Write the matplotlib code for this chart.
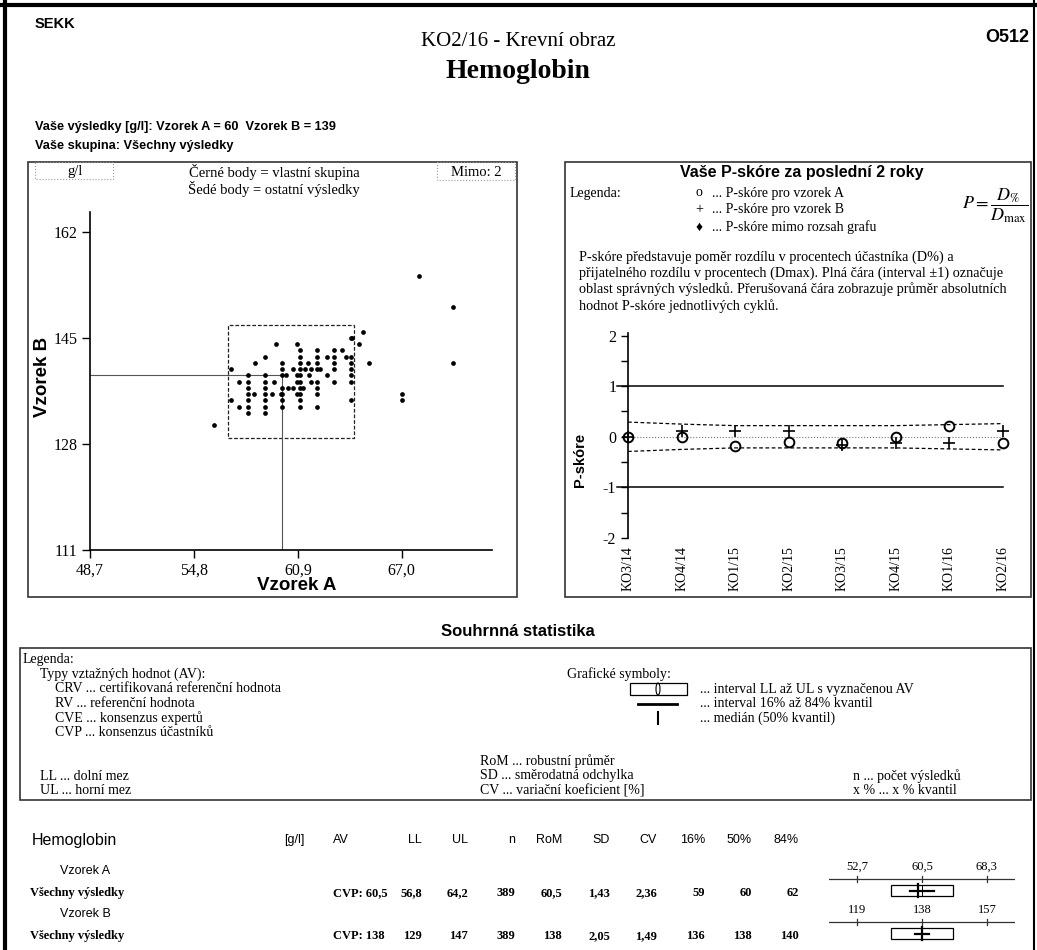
import matplotlib
matplotlib.use('Agg')
import matplotlib.pyplot as plt
from matplotlib.patches import Rectangle, Ellipse
from matplotlib import font_manager

# ---------------- data ----------------
# scatter: Vzorek A vs Vzorek B (g/l)
vzorek_a = [56, 67, 67, 68, 70, 70,
            64.7, 64.1, 64.0, 59.6, 60.85, 64.5,
            61, 62, 63, 63.5,
            59, 61, 62, 62.6, 63, 63.7, 64,
            58.4, 60, 61, 61.5, 62, 63, 64, 65.1,
            57, 60, 60.6, 61, 61.3, 61.7, 62, 62.2, 63, 64,
            58, 59, 60, 60.2, 60.85, 61, 61.55, 62.6, 64,
            57.45, 58, 59, 59.5, 60.85, 61, 61.7, 62, 63, 64,
            58, 59, 60, 60.3, 60.6, 61, 61.2, 62,
            58, 58.3, 59, 59.4, 59.9, 60, 60.85, 61, 62,
            57, 58, 59, 60, 61, 64,
            57.45, 58, 59, 60, 61, 62,
            58, 59]
vzorek_b = [131, 136, 135, 155, 150, 141,
            146, 145, 145, 144, 144, 144,
            143, 143, 143, 143,
            142, 142, 142, 142, 142, 142, 142,
            141, 141, 141, 141, 141, 141, 141, 141,
            140, 140, 140, 140, 140, 140, 140, 140, 140, 140,
            139, 139, 139, 139, 139, 139, 139, 139, 139,
            138, 138, 138, 138, 138, 138, 138, 138, 138, 138,
            137, 137, 137, 137, 137, 137, 137, 137,
            136, 136, 136, 136, 136, 136, 136, 136, 136,
            135, 135, 135, 135, 135, 135,
            134, 134, 134, 134, 134, 134,
            133, 133]
vase_a, vase_b = 60, 139
ll_a, ul_a = 56.8, 64.2
ll_b, ul_b = 129, 147
sc_xticks = [48.7, 54.8, 60.9, 67.0]
sc_xlabels = ['48,7', '54,8', '60,9', '67,0']
sc_yticks = [111, 128, 145, 162]

# P-score history
cykly = ['KO3/14', 'KO4/14', 'KO1/15', 'KO2/15', 'KO3/15', 'KO4/15', 'KO1/16', 'KO2/16']
p_a = [0.0, 0.0, -0.18, -0.11, -0.13, 0.0, 0.22, -0.13]
p_b = [0.0, 0.12, 0.12, 0.12, -0.17, -0.12, -0.13, 0.12]
p_prumer = [0.29, 0.25, 0.22, 0.22, 0.22, 0.22, 0.24, 0.26]

# summary table
tab_head = ['AV', 'LL', 'UL', 'n', 'RoM', 'SD', 'CV', '16%', '50%', '84%']
row_a = ['CVP: 60,5', '56,8', '64,2', '389', '60,5', '1,43', '2,36', '59', '60', '62']
row_b = ['CVP: 138', '129', '147', '389', '138', '2,05', '1,49', '136', '138', '140']
# box symbols: AV, LL, UL, q16, q50, q84, axis ticks
box_a = dict(av=60.5, ll=56.8, ul=64.2, q16=59, q50=60, q84=62,
             ticks=[52.7, 60.5, 68.3], labels=['52,7', '60,5', '68,3'], lim=(49.3, 71.7))
box_b = dict(av=138, ll=129, ul=147, q16=136, q50=138, q84=140,
             ticks=[119, 138, 157], labels=['119', '138', '157'], lim=(110.8, 165.2))

# ---------------- fonts ----------------
names = {f.name for f in font_manager.fontManager.ttflist}
SERIF = 'Liberation Serif'
SANS = 'Liberation Sans'
NARROW = 'Liberation Sans Narrow' if 'Liberation Sans Narrow' in names else SANS
nar_size = 11 if NARROW != SANS else 9.2
plt.rcParams['font.family'] = [SERIF, 'DejaVu Serif', 'DejaVu Sans']
plt.rcParams['mathtext.fontset'] = 'stix'
plt.rcParams['axes.unicode_minus'] = False

W, H = 1037, 950
fig = plt.figure(figsize=(W / 100, H / 100), dpi=100)
fig.patch.set_facecolor('white')

bg = fig.add_axes([0, 0, 1, 1])
bg.set_xlim(0, W)
bg.set_ylim(H, 0)
bg.axis('off')


def px_axes(l, t, r, b):
    return fig.add_axes([l / W, 1 - b / H, (r - l) / W, (b - t) / H])


def txt(x, y, s, size=10, fam=SERIF, **kw):
    kw.setdefault('va', 'center')
    bg.text(x, y, s, fontsize=size, family=[fam, 'DejaVu Sans'], **kw)


# page frame
bg.plot([5, 5], [0, H], color='black', lw=3)
bg.plot([0, W], [5, 5], color='black', lw=3)
bg.plot([1034, 1034], [0, H], color='black', lw=1.5)

# header
txt(35, 24, 'SEKK', 10.5, NARROW, weight='bold')
txt(1029, 38, 'O512', 13, SANS, weight='bold', ha='right')
txt(518, 41, 'KO2/16 - Krevní obraz', 15, ha='center')
txt(518, 72, 'Hemoglobin', 20, weight='bold', ha='center')
txt(35, 127, 'Vaše výsledky [g/l]: Vzorek A = 60  Vzorek B = 139', nar_size, NARROW, weight='bold')
txt(35, 146, 'Vaše skupina: Všechny výsledky', nar_size, NARROW, weight='bold')

# ---------------- left panel: scatter ----------------
bg.add_patch(Rectangle((28, 162), 489, 435, fill=False, lw=1.2, ec='#333333'))
bg.add_patch(Rectangle((35, 162), 78, 17, fill=False, lw=0.8, ec='#999999', ls=':'))
bg.add_patch(Rectangle((437, 162), 78, 18, fill=False, lw=0.8, ec='#999999', ls=':'))
txt(75, 172, 'g/l', 10.5, ha='center')
txt(476, 172, 'Mimo: 2', 10.5, ha='center')
txt(274, 172, 'Černé body = vlastní skupina', 10.5, ha='center')
txt(274, 189, 'Šedé body = ostatní výsledky', 10.5, ha='center')

ax = px_axes(90, 212, 492, 550)
ax.set_xlim(48.7, 72.3)
ax.set_ylim(111, 165.2)
ax.plot([48.7, vase_a], [vase_b, vase_b], color='#555555', lw=0.8)
ax.plot([vase_a, vase_a], [111, vase_b], color='#555555', lw=0.8)
ax.add_patch(Rectangle((ll_a, ll_b), ul_a - ll_a, ul_b - ll_b, fill=False,
                       ls=(0, (3, 1.5)), lw=0.9, ec='#222222'))
ax.plot(vzorek_a, vzorek_b, 'o', ms=3.4, color='black', mew=0, clip_on=False)
for s in ['top', 'right']:
    ax.spines[s].set_visible(False)
ax.spines['left'].set_linewidth(1.2)
ax.spines['bottom'].set_linewidth(1.2)
ax.set_xticks(sc_xticks)
ax.set_xticklabels(sc_xlabels)
ax.set_yticks(sc_yticks)
ax.tick_params(direction='out', length=6, width=1, labelsize=11.5, pad=3)
ax.set_xlabel('Vzorek A', fontsize=13.5, family=SANS, weight='bold')
ax.set_ylabel('Vzorek B', fontsize=13.5, family=SANS, weight='bold')
ax.xaxis.label.set_va('center')
ax.yaxis.label.set_va('center')
ax.xaxis.set_label_coords(0.515, -0.104)
ax.yaxis.set_label_coords(-0.117, 0.512)
ax.patch.set_alpha(0)

# ---------------- right panel: P-score ----------------
bg.add_patch(Rectangle((565, 162), 466, 435, fill=False, lw=1.2, ec='#333333'))
txt(802, 173, 'Vaše P-skóre za poslední 2 roky', 11.5, SANS, weight='bold', ha='center')
txt(570, 193, 'Legenda:', 10)
txt(699, 193, 'o', 10, ha='center')
txt(699, 210, '+', 10, ha='center')
txt(699, 227, '♦', 10, ha='center')
txt(712, 193, '... P-skóre pro vzorek A', 10)
txt(712, 210, '... P-skóre pro vzorek B', 10)
txt(712, 227, '... P-skóre mimo rozsah grafu', 10)
bg.text(1028, 206, r'$P=\dfrac{D_{\%}}{D_{\max}}$', fontsize=13, ha='right', va='center')
odstavec = ['P-skóre představuje poměr rozdílu v procentech účastníka (D%) a',
            'přijatelného rozdílu v procentech (Dmax). Plná čára (interval ±1) označuje',
            'oblast správných výsledků. Přerušovaná čára zobrazuje průměr absolutních',
            'hodnot P-skóre jednotlivých cyklů.']
for i, line in enumerate(odstavec):
    txt(579, 257 + i * 16.3, line, 10.3)

ax2 = px_axes(628, 333, 1003, 538)
x = list(range(len(cykly)))
ax2.set_xlim(0, len(cykly) - 1)
ax2.set_ylim(-2, 2.05)
ax2.axhline(1, xmin=-0.03, xmax=1, color='black', lw=1.1, clip_on=False)
ax2.axhline(-1, xmin=-0.03, xmax=1, color='black', lw=1.1, clip_on=False)
ax2.axhline(0, color='#777777', lw=0.8, ls=':')
ax2.plot(x, p_prumer, color='black', lw=0.9, ls=(0, (3, 2)))
ax2.plot(x, [-v for v in p_prumer], color='black', lw=0.9, ls=(0, (3, 2)))
ax2.plot(x, p_a, 'o', ms=7, mfc='none', mec='black', mew=1.4, clip_on=False)
ax2.plot(x, p_b, '+', ms=8, color='black', mew=1.2, clip_on=False)
for s in ['top', 'right', 'bottom']:
    ax2.spines[s].set_visible(False)
ax2.spines['left'].set_linewidth(1.2)
ax2.set_yticks([-2, -1, 0, 1, 2])
ax2.set_yticks([-1.5, -0.5, 0.5, 1.5], minor=True)
ax2.tick_params(axis='y', which='both', direction='out', length=5, width=1, labelsize=11.5)
ax2.set_xticks(x)
ax2.set_xticklabels(cykly, rotation=90, fontsize=10)
ax2.tick_params(axis='x', length=0, pad=6)
ax2.set_ylabel('P-skóre', fontsize=10.5, family=SANS, weight='bold')
ax2.yaxis.label.set_va('center')
ax2.yaxis.set_label_coords(-0.128, 0.38)
ax2.patch.set_alpha(0)

# ---------------- summary legend ----------------
txt(518, 632, 'Souhrnná statistika', 12, SANS, weight='bold', ha='center')
bg.add_patch(Rectangle((20, 648), 1011, 152, fill=False, lw=1.2, ec='#333333'))
ry = [660 + i * 14.5 for i in range(10)]
txt(23, ry[0], 'Legenda:', 10)
txt(40, ry[1], 'Typy vztažných hodnot (AV):', 10)
txt(55, ry[2], 'CRV ... certifikovaná referenční hodnota', 10)
txt(55, ry[3], 'RV ... referenční hodnota', 10)
txt(55, ry[4], 'CVE ... konsenzus expertů', 10)
txt(55, ry[5], 'CVP ... konsenzus účastníků', 10)
txt(40, ry[8], 'LL ... dolní mez', 10)
txt(40, ry[9], 'UL ... horní mez', 10)
txt(480, ry[7], 'RoM ... robustní průměr', 10)
txt(480, ry[8], 'SD ... směrodatná odchylka', 10)
txt(480, ry[9], 'CV ... variační koeficient [%]', 10)
txt(853, ry[8], 'n ... počet výsledků', 10)
txt(853, ry[9], 'x % ... x % kvantil', 10)
txt(567, ry[1], 'Grafické symboly:', 10)
bg.add_patch(Rectangle((630, ry[2] - 6), 57, 12, fill=False, lw=0.9, ec='black'))
bg.add_patch(Ellipse((658, ry[2]), 4, 12, fill=False, lw=0.8, ec='black'))
bg.plot([638, 677], [ry[3], ry[3]], color='black', lw=2)
bg.plot([658, 658], [ry[4] - 6, ry[4] + 6], color='black', lw=1.5)
txt(700, ry[2], '... interval LL až UL s vyznačenou AV', 10)
txt(700, ry[3], '... interval 16% až 84% kvantil', 10)
txt(700, ry[4], '... medián (50% kvantil)', 10)

# ---------------- summary table ----------------
txt(32, 845, 'Hemoglobin', 11.5, SANS, va='baseline')
txt(294, 843, '[g/l]', 9, SANS, ha='center', va='baseline')
col_x = [333, 422, 468, 515, 562, 610, 657, 705, 752, 799]
for i, (h, cx) in enumerate(zip(tab_head, col_x)):
    txt(cx, 843, h, 9, SANS, ha='left' if i == 0 else 'right', va='baseline')
txt(60, 874, 'Vzorek A', 9, SANS, va='baseline')
txt(60, 917, 'Vzorek B', 9, SANS, va='baseline')
for ry_, row in [(896, row_a), (939, row_b)]:
    txt(30, ry_, 'Všechny výsledky', 9, weight='bold', va='baseline')
    for i, (v, cx) in enumerate(zip(row, col_x)):
        txt(cx, ry_, v, 9, weight='bold', ha='left' if i == 0 else 'right', va='baseline')

for top, b in [(858, box_a), (901, box_b)]:
    bx = px_axes(829, top, 1015, top + 42)
    bx.set_xlim(*b['lim'])
    bx.set_ylim(42, 0)
    bx.axis('off')
    bx.axhline(21, color='#333333', lw=0.9)
    for t, lab in zip(b['ticks'], b['labels']):
        bx.plot([t, t], [18, 24], color='#333333', lw=0.9)
        bx.text(t, 12, lab, ha='center', va='baseline', fontsize=9)
    bx.add_patch(Rectangle((b['ll'], 27), b['ul'] - b['ll'], 11, fill=False, lw=0.9, ec='black'))
    bx.plot([b['q16'], b['q84']], [32.5, 32.5], color='black', lw=1.6)
    bx.plot([b['q50'], b['q50']], [26, 39], color='black', lw=1.6)
    bx.plot([b['av'], b['av']], [27, 38], color='black', lw=0.7)

fig.savefig('out.png', dpi=100, facecolor='white')
